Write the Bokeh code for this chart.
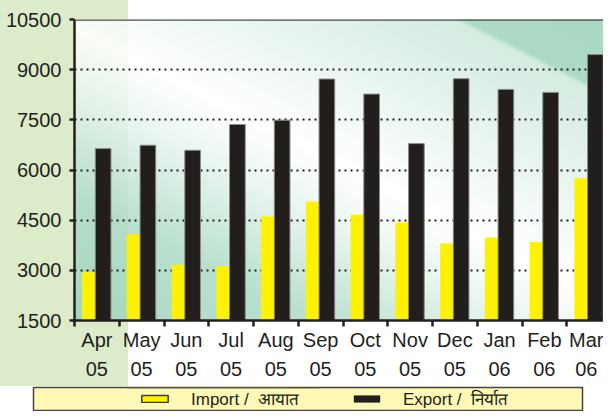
from bokeh.plotting import figure
from bokeh.layouts import column
from bokeh.models import (Range1d, FixedTicker, Legend, LegendItem, Span, ColumnDataSource)
from bokeh.embed import file_html
from bokeh.resources import INLINE

# ---- data ----
months = ["Apr", "May", "Jun", "Jul", "Aug", "Sep", "Oct", "Nov", "Dec", "Jan", "Feb", "Mar"]
years = ["05", "05", "05", "05", "05", "05", "05", "05", "05", "06", "06", "06"]
imports = [2940, 4080, 3170, 3130, 4610, 5060, 4660, 4430, 3800, 3980, 3850, 5750]
exports = [6640, 6740, 6590, 7360, 7490, 8720, 8270, 6790, 8730, 8410, 8320, 9450]
y_ticks = [1500, 3000, 4500, 6000, 7500, 9000, 10500]
import_label = "Import /  आयात"
export_label = "Export /  निर्यात"

FONT = "Liberation Sans"
INK = "#231f20"
n = len(months)

src = ColumnDataSource(data=dict(
    xi=[i + 0.345 for i in range(n)],
    xe=[i + 0.64 for i in range(n)],
    imports=imports,
    exports=exports,
))

W = 603
H1 = 386
FL, FT, FH = 74, 19, 301
FW = W - FL
CAT_PX = 44.75

p = figure(width=W, height=H1, x_range=Range1d(0, FW / CAT_PX),
           y_range=Range1d(y_ticks[0], y_ticks[-1]),
           output_backend="svg", toolbar_location=None, frame_align=False,
           min_border_left=FL, min_border_right=0, min_border_top=FT,
           min_border_bottom=H1 - FT - FH)

p.background_fill_alpha = 0
p.border_fill_alpha = 0
p.outline_line_color = None

plot_bg = ("linear-gradient(27deg, rgba(160,212,188,0.9) 0%, rgba(176,220,200,0.88) 22%, "
           "rgba(230,244,237,0.85) 40%, rgba(255,255,255,0.85) 51%, rgba(232,245,239,0.85) 66%, "
           "rgba(206,233,220,0.88) 86.5%, rgba(166,215,192,0.92) 87.5%, rgba(162,213,190,0.92) 100%)")
green = "linear-gradient(#dcebc9, #dcebc9)"
p.styles = {
    "background": f"{plot_bg} {FL}px {FT}px / {FW}px {FH}px no-repeat, "
                  f"{green} 0px 0px / 128px {H1}px no-repeat, #ffffff"
}

# bars
p.vbar(x="xi", top="imports", bottom=y_ticks[0], width=0.35, source=src,
       fill_color="#fff200", line_color=None)
p.vbar(x="xe", top="exports", bottom=y_ticks[0], width=0.35, source=src,
       fill_color="#221e1b", line_color="#8a8a8a", line_width=1)

# axes
p.yaxis.ticker = FixedTicker(ticks=y_ticks)
p.yaxis.major_label_overrides = {t: str(t) for t in y_ticks}
p.yaxis.axis_line_width = 2.5
p.yaxis.axis_line_color = INK
p.yaxis.major_tick_line_width = 2.5
p.yaxis.major_tick_line_color = INK
p.yaxis.major_tick_out = 5
p.yaxis.major_tick_in = 0
p.yaxis.minor_tick_line_color = None
p.yaxis.major_label_standoff = 8
p.yaxis.major_label_text_font = FONT
p.yaxis.major_label_text_font_size = "20px"
p.yaxis.major_label_text_color = INK

p.xaxis.ticker = FixedTicker(ticks=[i + 0.5 for i in range(n)], minor_ticks=list(range(n + 1)))
p.xaxis.major_label_overrides = {i + 0.5: f"{months[i]}\n{years[i]}" for i in range(n)}
p.xaxis.axis_line_width = 2.5
p.xaxis.axis_line_color = INK
p.xaxis.major_tick_line_color = None
p.xaxis.major_tick_out = 0
p.xaxis.major_tick_in = 0
p.xaxis.minor_tick_line_color = INK
p.xaxis.minor_tick_line_width = 2.5
p.xaxis.minor_tick_out = 6
p.xaxis.minor_tick_in = 0
p.xaxis.major_label_standoff = 2
p.xaxis.major_label_text_font = FONT
p.xaxis.major_label_text_font_size = "20px"
p.xaxis.major_label_text_color = INK
p.xaxis.major_label_text_line_height = 1.36

p.xgrid.visible = False
p.ygrid.ticker = FixedTicker(ticks=y_ticks[1:-1])
p.ygrid.grid_line_color = INK
p.ygrid.grid_line_width = 2
p.ygrid.grid_line_dash = "2 4"

p.add_layout(Span(location=y_ticks[-1], dimension="width", line_color="#4e4e4e", line_width=2.5))

# ---- legend strip ----
H2 = 25
lg = figure(width=W, height=H2, x_range=Range1d(0, 1), y_range=Range1d(0, 1),
            output_backend="svg", toolbar_location=None, frame_align=False,
            x_axis_location=None, y_axis_location=None,
            min_border_left=33, min_border_right=21, min_border_top=1, min_border_bottom=0)
lg.grid.visible = False
lg.background_fill_color = "#fff9b5"
lg.border_fill_color = "#ffffff"
lg.outline_line_color = "#454545"
lg.outline_line_width = 1.5

# swatch renderers: same data, lying outside this strip's ranges, so only their legend glyphs show
yl = lg.vbar(x="xi", top="imports", bottom=y_ticks[0], width=0.35, source=src,
             fill_color="#fff200", line_color="#3c3c3c", line_width=1.5)
el = lg.vbar(x="xe", top="exports", bottom=y_ticks[0], width=0.35, source=src,
             fill_color="#221e1b", line_color=None)

legend = Legend(items=[LegendItem(label=import_label, renderers=[yl]),
                       LegendItem(label=export_label, renderers=[el])],
                location=(105, 1), orientation="horizontal",
                padding=0, spacing=24, margin=0,
                label_standoff=20, glyph_width=33, glyph_height=9,
                label_width=135, label_height=22,
                label_text_font=FONT, label_text_font_size="17px", label_text_color=INK,
                background_fill_alpha=0, border_line_alpha=0)
lg.add_layout(legend, "center")

layout = column(p, lg, spacing=0)
open("out.html", "w").write(file_html(layout, INLINE))
